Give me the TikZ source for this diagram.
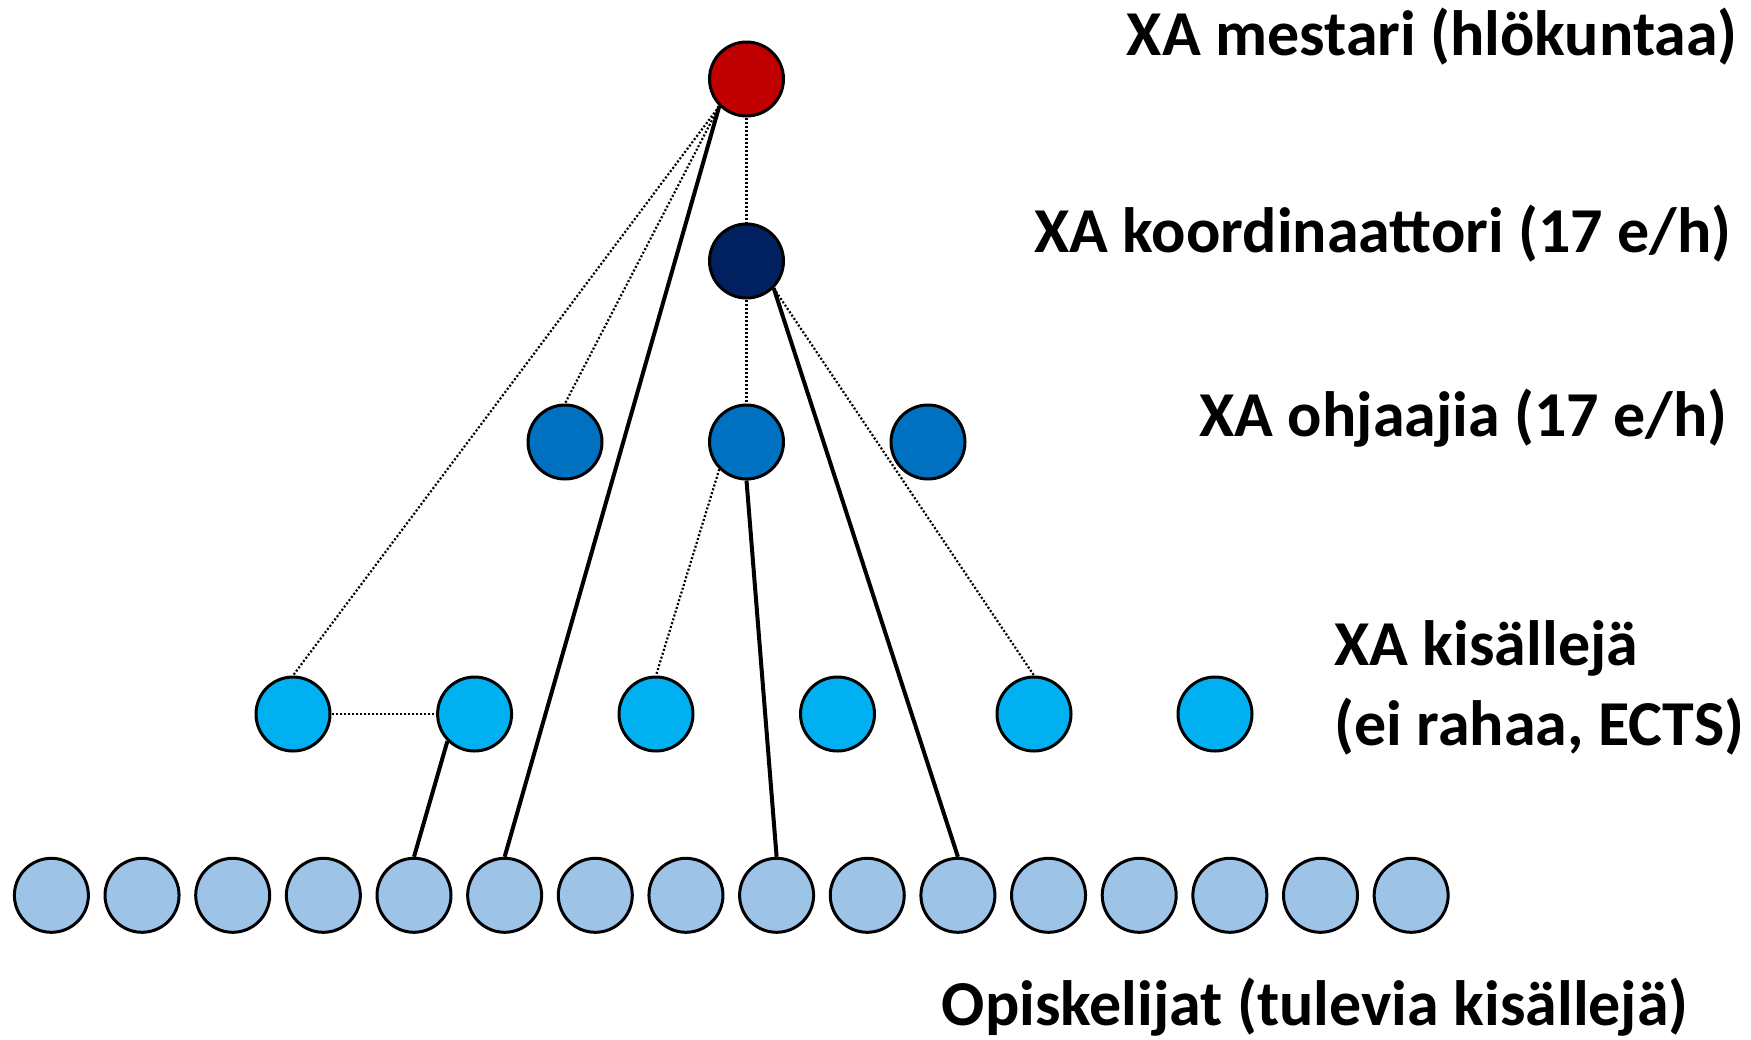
\documentclass[tikz,border=0pt]{standalone}
\usepackage{fontspec}
\setmainfont{Carlito}
\definecolor{cmaster}{HTML}{C00000}
\definecolor{ccoord}{HTML}{002060}
\definecolor{cguide}{HTML}{0070C0}
\definecolor{cjour}{HTML}{00B0F0}
\definecolor{cstud}{HTML}{9DC3E6}
\tikzset{
  person/.style={circle, draw=black, line width=1.5pt, minimum size=37pt, inner sep=0pt},
  solidlink/.style={line width=2pt, draw=black},
  dotlink/.style={line width=1.1pt, draw=black, dash pattern=on 1pt off 1pt},
  lbl/.style={inner sep=0pt, font=\fontsize{32pt}{39pt}\selectfont\bfseries}
}
\begin{document}
\begin{tikzpicture}[x=0.5pt,y=-0.5pt]
\useasboundingbox (0,0) rectangle (1751,1039);
% nodes
\node[person, fill=cmaster] (m) at (746.5,79) {};
\node[person, fill=ccoord] (k) at (746.5,261) {};
\node[person, fill=cguide] (o1) at (565,442) {};
\node[person, fill=cguide] (o2) at (746.5,442) {};
\node[person, fill=cguide] (o3) at (928,442) {};
\node[person, fill=cjour] (j1) at (293,714) {};
\node[person, fill=cjour] (j2) at (474.6,714) {};
\node[person, fill=cjour] (j3) at (656,714) {};
\node[person, fill=cjour] (j4) at (837.5,714) {};
\node[person, fill=cjour] (j5) at (1034,714) {};
\node[person, fill=cjour] (j6) at (1215,714) {};
\foreach \i in {0,...,15} {
  \node[person, fill=cstud] (s\i) at ({51.4+90.65*\i},895.3) {};
}
% connectors
\draw[dotlink] (m.south west) -- (j1.north);
\draw[dotlink] (m.south west) -- (o1.north);
\draw[solidlink] (m.south west) -- (s5.north);
\draw[dotlink] (m.south) -- (k.north);
\draw[dotlink] (k.south) -- (o2.north);
\draw[solidlink] (k.south east) -- (s10.north);
\draw[dotlink] (k.south east) -- (j5.north);
\draw[dotlink] (o2.south west) -- (j3.north);
\draw[solidlink] (o2.south) -- (s8.north);
\draw[dotlink] (j1.east) -- (j2.west);
\draw[solidlink] (j2.south west) -- (s4.north);
% labels
\node[lbl, anchor=base east] (t1) at (1738,55) {XA mestari (hlökuntaa)};
\node[lbl, anchor=base east] (t2) at (1732,252) {XA koordinaattori (17 e/h)};
\node[lbl, anchor=base east] (t3) at (1728,436) {XA ohjaajia (17 e/h)};
\node[lbl, anchor=base west] (t4) at (1334,665) {XA kisällejä};
\node[lbl, anchor=base west] (t5) at (1334,745) {(ei rahaa, ECTS)};
\node[lbl, anchor=base east] (t6) at (1689,1025) {Opiskelijat (tulevia kisällejä)};
\end{tikzpicture}
\end{document}
